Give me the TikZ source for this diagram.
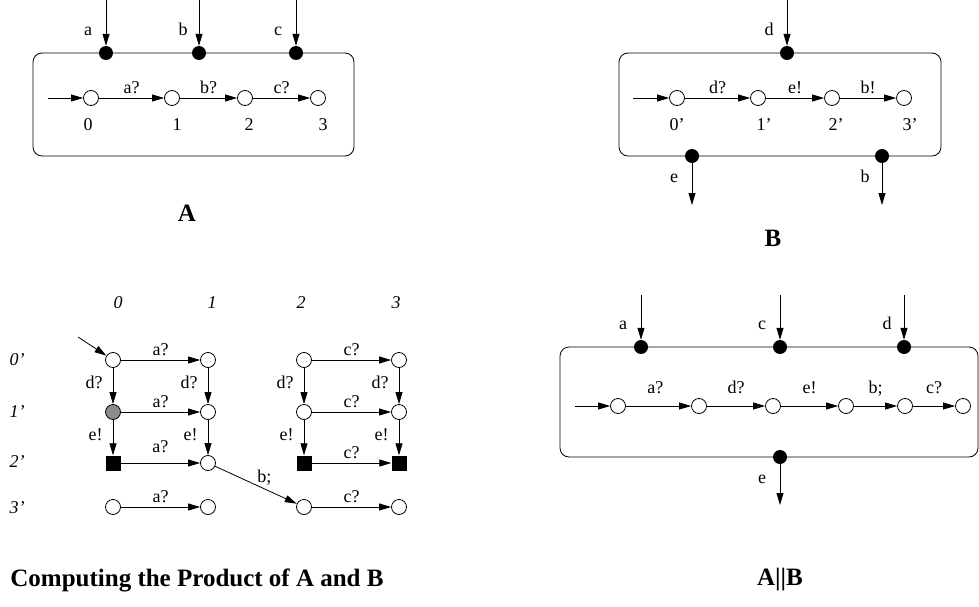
\documentclass[tikz,border=0pt]{standalone}
\usepackage{fontspec}
\setmainfont{Liberation Serif}
\usetikzlibrary{arrows.meta, positioning}

\begin{document}
\begin{tikzpicture}[
      x=1pt, y=-1pt,
      lbl/.style={font=\fontsize{18}{20}\selectfont, inner sep=1pt, text height=1.6ex, text depth=0.3ex},
      idx/.style={font=\fontsize{18}{20}\selectfont\itshape, inner sep=1pt},
      title/.style={font=\fontsize{25}{27}\selectfont\bfseries, inner sep=0pt},
      state/.style={circle, draw, line width=0.8pt, fill=white, minimum size=15pt, inner sep=0pt},
      busy/.style={state, fill=gray!90},
      sink/.style={rectangle, fill=black, minimum size=15pt, inner sep=0pt},
      port/.style={circle, fill=black, minimum size=14pt, inner sep=0pt},
      trans/.style={-{Triangle[length=12pt, width=7pt]}, line width=0.8pt},
      wire/.style={line width=0.8pt}
    ]
    \useasboundingbox (0,0) rectangle (979,607);

    % component A
    \draw[wire, rounded corners=9pt] (33,53) rectangle (354,156);
    \node[port] (pa) at (106,53) {};
    \node[port] (pb) at (199,53) {};
    \node[port] (pc) at (296,53) {};
    \coordinate (ia) at (106,0);
    \coordinate (ib) at (199,0);
    \coordinate (ic) at (296,0);
    \draw[trans] (ia) -- (pa);
    \draw[trans] (ib) -- (pb);
    \draw[trans] (ic) -- (pc);
    \node[lbl] (la) at (88,33) {a};
    \node[lbl] (lb) at (183,33) {b};
    \node[lbl] (lc) at (278,33) {c};

    \node[state] (a0) at (91,98) {};
    \node[state] (a1) at (172,98) {};
    \node[state] (a2) at (245,98) {};
    \node[state] (a3) at (318,98) {};
    \coordinate (ainit) at (48,98);
    \draw[trans] (ainit) -- (a0);
    \draw[trans] (a0) -- node[lbl, above=2pt] {a?} (a1);
    \draw[trans] (a1) -- node[lbl, above=2pt] {b?} (a2);
    \draw[trans] (a2) -- node[lbl, above=2pt] {c?} (a3);
    \node[lbl] (na0) at (88,128) {0};
    \node[lbl] (na1) at (177,128) {1};
    \node[lbl] (na2) at (249,128) {2};
    \node[lbl] (na3) at (323,128) {3};
    \node[title] (tA) at (187,213) {A};

    % component B
    \draw[wire, rounded corners=9pt] (619,53) rectangle (941,156);
    \node[port] (pd) at (787,53) {};
    \node[port] (pe) at (692,156) {};
    \node[port] (pbo) at (882,156) {};
    \coordinate (id) at (787,0);
    \coordinate (oe) at (692,205);
    \coordinate (ob) at (882,205);
    \draw[trans] (id) -- (pd);
    \draw[trans] (pe) -- (oe);
    \draw[trans] (pbo) -- (ob);
    \node[lbl] (ld) at (769,33) {d};
    \node[lbl] (le) at (674,180) {e};
    \node[lbl] (lbo) at (865,180) {b};

    \node[state] (b0) at (677,98) {};
    \node[state] (b1) at (758,98) {};
    \node[state] (b2) at (832,98) {};
    \node[state] (b3) at (904,98) {};
    \coordinate (binit) at (633,98);
    \draw[trans] (binit) -- (b0);
    \draw[trans] (b0) -- node[lbl, above=2pt] {d?} (b1);
    \draw[trans] (b1) -- node[lbl, above=2pt] {e!} (b2);
    \draw[trans] (b2) -- node[lbl, above=2pt] {b!} (b3);
    \node[lbl] (nb0) at (677,128) {0'};
    \node[lbl] (nb1) at (764,128) {1'};
    \node[lbl] (nb2) at (836,128) {2'};
    \node[lbl] (nb3) at (910,128) {3'};
    \node[title] (tB) at (773,238) {B};

    % product of A and B
    \node[idx] (c0) at (118,303) {0};
    \node[idx] (c1) at (212,303) {1};
    \node[idx] (c2) at (301,303) {2};
    \node[idx] (c3) at (396,303) {3};
    \node[idx] (r0) at (17,360) {0'};
    \node[idx] (r1) at (17,412) {1'};
    \node[idx] (r2) at (17,462) {2'};
    \node[idx] (r3) at (17,508) {3'};

    \node[state] (s00) at (113,360) {};
    \node[state] (s10) at (208,360) {};
    \node[state] (s20) at (304,360) {};
    \node[state] (s30) at (399,360) {};
    \node[busy]  (s01) at (113,412) {};
    \node[state] (s11) at (208,412) {};
    \node[state] (s21) at (304,412) {};
    \node[state] (s31) at (399,412) {};
    \node[sink]  (s02) at (113,463) {};
    \node[state] (s12) at (208,463) {};
    \node[sink]  (s22) at (304,463) {};
    \node[sink]  (s32) at (399,463) {};
    \node[state] (s03) at (113,507) {};
    \node[state] (s13) at (208,507) {};
    \node[state] (s23) at (304,507) {};
    \node[state] (s33) at (399,507) {};

    \coordinate (pinit) at (78,337);
    \draw[trans] (pinit) -- (s00);
    \foreach \r in {0,1,3} {
      \draw[trans] (s0\r) -- node[lbl, above=2pt] {a?} (s1\r);
      \draw[trans] (s2\r) -- node[lbl, above=2pt] {c?} (s3\r);
    }
    \draw[trans] (s02) -- node[lbl, above=8pt] {a?} (s12);
    \draw[trans] (s22) -- node[lbl, above=2pt] {c?} (s32);
    \foreach \c in {0,1,2,3} {
      \draw[trans] (s\c0) -- node[lbl, left=9pt] {d?} (s\c1);
      \draw[trans] (s\c1) -- node[lbl, left=9pt] {e!} (s\c2);
    }
    \draw[trans] (s12) -- node[lbl, above right=0pt and 0pt, pos=0.5] {b;} (s23);
    \node[title] (tP) at (197,580) {Computing the Product of A and B};

    % composition A||B
    \draw[wire, rounded corners=9pt] (560,347) rectangle (978,457);
    \node[port] (qa) at (641,347) {};
    \node[port] (qc) at (780,347) {};
    \node[port] (qd) at (904,347) {};
    \node[port] (qe) at (780,457) {};
    \coordinate (ja) at (641,295);
    \coordinate (jc) at (780,295);
    \coordinate (jd) at (904,295);
    \coordinate (ke) at (780,505);
    \draw[trans] (ja) -- (qa);
    \draw[trans] (jc) -- (qc);
    \draw[trans] (jd) -- (qd);
    \draw[trans] (qe) -- (ke);
    \node[lbl] (ma) at (623,327) {a};
    \node[lbl] (mc) at (762,327) {c};
    \node[lbl] (md) at (887,327) {d};
    \node[lbl] (me) at (762,481) {e};

    \node[state] (u0) at (618,406) {};
    \node[state] (u1) at (699,406) {};
    \node[state] (u2) at (773,406) {};
    \node[state] (u3) at (846,406) {};
    \node[state] (u4) at (905,406) {};
    \node[state] (u5) at (963,406) {};
    \coordinate (uinit) at (575,406);
    \draw[trans] (uinit) -- (u0);
    \draw[trans] (u0) -- node[lbl, above=10pt, pos=0.45] {a?} (u1);
    \draw[trans] (u1) -- node[lbl, above=10pt, pos=0.5] {d?} (u2);
    \draw[trans] (u2) -- node[lbl, above=10pt, pos=0.5] {e!} (u3);
    \draw[trans] (u3) -- node[lbl, above=10pt, pos=0.5] {b;} (u4);
    \draw[trans] (u4) -- node[lbl, above=10pt, pos=0.5] {c?} (u5);
    \node[title] (tAB) at (780,580) {A||B};
  \end{tikzpicture}
\end{document}
